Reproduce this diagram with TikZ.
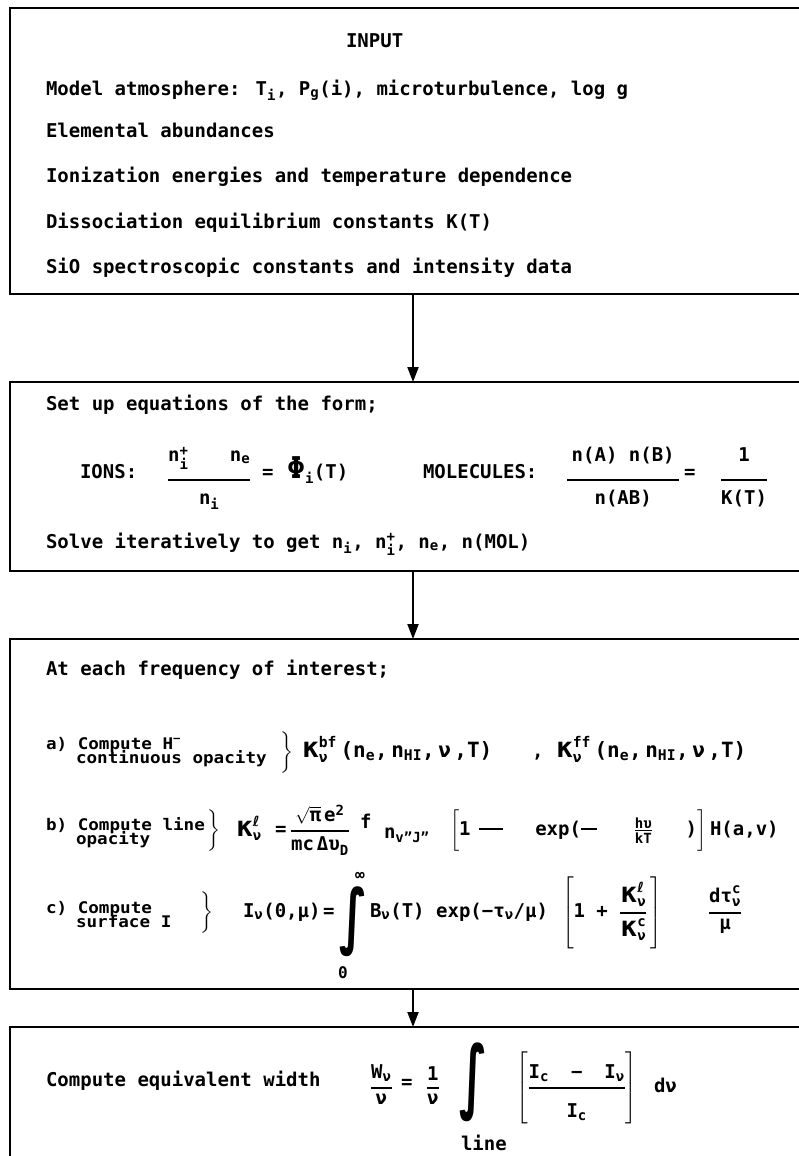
\documentclass[tikz,border=0pt]{standalone}
\usepackage{fontspec}
\usepackage{amsmath}
\usepackage{graphicx}
\setmainfont{DejaVu Sans Mono}
\newfontfamily\dvs{DejaVu Sans}
\usetikzlibrary{arrows.meta}
\DeclareMathSizes{19}{19}{14}{11}
\newcommand\tx[1]{\text{#1}}
\newcommand\bigK{\text{\fontsize{28}{28}\selectfont κ}}
\newcommand\Lsym{\text{\dvs\bfseries ℓ}}
\newcommand\ff[2]{\genfrac{}{}{1.8pt}{0}{#1}{#2}}
\newcommand\sfr[2]{\genfrac{}{}{1.2pt}{1}{#1}{#2}}
\newcommand\sx[1]{\scalebox{1.1}[1]{#1}}
\newcommand\dash[1]{\rule[5.5pt]{#1}{2pt}}
\newcommand\bigint[1]{\scalebox{1}[#1]{\dvs\bfseries\fontsize{46}{46}\selectfont ∫}}
\tikzset{
  boxx/.style={draw, line width=2.5pt, anchor=north west, minimum width=806pt, inner sep=0pt, outer sep=0pt},
  txt/.style={anchor=base west, inner sep=0pt, outer sep=0pt, font=\bfseries\fontsize{19}{22}\selectfont},
  lbl/.style={anchor=base west, inner sep=0pt, outer sep=0pt, font=\bfseries\fontsize{16}{16}\selectfont},
  intg/.style={inner sep=0pt, outer sep=0pt},
  flow/.style={line width=2pt, -{Triangle[length=15pt,width=11pt]}},
}
\begin{document}
\begin{tikzpicture}[x=1pt,y=-1pt]
\useasboundingbox (0,0) rectangle (799,1156);
\clip (0,0) rectangle (799,1156);
\fill[white] (0,0) rectangle (799,1156);

% boxes
\node[boxx, minimum height=286pt] (b1) at (10,8) {};
\node[boxx, minimum height=189pt] (b2) at (10,382) {};
\node[boxx, minimum height=350pt] (b3) at (10,639) {};
\node[boxx, minimum height=180pt] (b4) at (10,1027) {};

\draw[flow] (b1.south) -- (b2.north);
\draw[flow] (b2.south) -- (b3.north);
\draw[flow] (b3.south) -- (b4.north);

% box 1
\node[txt] (t-input) at (346,48) {INPUT};
\node[txt] (t-model) at (46,95) {Model atmosphere: T$_{\tx{i}}$, P$_{\tx{g}}$(i), microturbulence, log g};
\node[txt] (t-elem) at (46,137) {Elemental abundances};
\node[txt] (t-ion) at (46,182) {Ionization energies and temperature dependence};
\node[txt] (t-diss) at (46,228) {Dissociation equilibrium constants K(T)};
\node[txt] (t-sio) at (46,273) {SiO spectroscopic constants and intensity data};

% box 2
\node[txt] (t-setup) at (46,410) {Set up equations of the form;};
\node[txt] (t-ions) at (80,478) {IONS:};
\node[txt] (f-ions) at (167,484) {$\displaystyle\ff{\rule[-12pt]{0pt}{12pt}\makebox[82pt]{$\tx{n}_{\tx{i}}^{\tx{+}}$\hfill$\tx{n}_{\tx{e}}$}}{\rule{0pt}{18.5pt}\tx{n}_{\tx{i}}}$};
\node[txt] (eq-ions) at (262,478) {=};
\node[txt] (phi) at (287,478) {{\fontsize{30}{30}\selectfont Φ}$_{\tx{i}}$(T)};
\node[txt] (t-mol) at (423,478) {MOLECULES:};
\node[txt] (f-mol) at (566,484) {$\displaystyle\ff{\rule[-12pt]{0pt}{12pt}\makebox[112pt]{n(A) n(B)}}{\rule{0pt}{18.5pt}\tx{n(AB)}}$};
\node[txt] (eq-mol) at (684,478) {=};
\node[txt] (f-k) at (720,484) {$\displaystyle\ff{\rule[-12pt]{0pt}{12pt}\tx{1}}{\rule{0pt}{18.5pt}\tx{K(T)}}$};
\node[txt] (t-solve) at (46,548) {Solve iteratively to get n$_{\tx{i}}$, n$_{\tx{i}}^{\tx{+}}$, n$_{\tx{e}}$, n(MOL)};

% box 3
\node[txt] (t-each) at (46,675) {At each frequency of interest;};

\node[lbl] (la1) at (46,749) {\sx{a) Compute H$^{\tx{−}}$}};
\node[lbl] (la2) at (76,763) {\sx{continuous opacity}};
\node[txt] (br-a) at (280,757) {$\bigg\}$};
\node[txt, font=\bfseries\fontsize{21}{24}\selectfont] (f-a1) at (302,757) {$\bigK_{\tx{ν}}^{\tx{bf}}\,\tx{(n}_{\tx{e}}\tx{,\,n}_{\tx{HI}}\tx{,\,ν\,,T)}$};
\node[txt] (comma-a) at (532,757) {,};
\node[txt, font=\bfseries\fontsize{21}{24}\selectfont] (f-a2) at (556,757) {$\bigK_{\tx{ν}}^{\tx{ff}}\,\tx{(n}_{\tx{e}}\tx{,\,n}_{\tx{HI}}\tx{,\,ν\,,T)}$};

\node[lbl] (lb1) at (46,830) {\sx{b) Compute line}};
\node[lbl] (lb2) at (76,844) {\sx{opacity}};
\node[txt] (br-b) at (207,835) {$\bigg\}$};
\node[txt] (kl) at (236,836) {$\bigK_{\tx{ν}}^{\Lsym}$};
\node[txt] (eq-b) at (275,835) {=};
\node[txt] (f-b) at (290,835) {$\displaystyle\ff{\sqrt{\tx{π}}\,\tx{e}^{\tx{2}}}{\tx{mc}\,\tx{Δυ}_{\tx{D}}}$};
\node[txt] (fb) at (360,828) {f};
\node[txt] (nvj) at (384,838) {n$_{\tx{v"J"}}$};
\node[txt] (brk-b) at (450,835) {$\left[\rule[-14pt]{0pt}{34pt}\makebox[238pt][s]{\tx{1}\hspace{8pt}\dash{24pt}\hfill\tx{exp(}\dash{16pt}\hspace{4pt}\hfill$\sfr{\tx{hυ}}{\tx{kT}}$\hfill\tx{)}}\right]$};
\node[txt] (hav) at (710,835) {H(a,v)};

\node[lbl] (lc1) at (46,913) {\sx{c) Compute}};
\node[lbl] (lc2) at (76,927) {\sx{surface I}};
\node[txt] (br-c) at (200,917) {$\bigg\}$};
\node[txt] (iv) at (243,917) {I$_{\tx{ν}}$(0,μ)};
\node[txt] (eq-c) at (323,917) {=};
\node[intg] (int-c) at (354,922) {\bigint{1.55}};
\node[lbl, anchor=base] (inf-c) at (360,880) {∞};
\node[lbl] (zero-c) at (338,978) {0};
\node[txt] (bexp) at (370,917) {B$_{\tx{ν}}$(T) exp(−τ$_{\tx{ν}}$/μ)};
\node[txt] (brk-c) at (562,917) {$\left[\rule[-33pt]{0pt}{76pt}\tx{1 + }\displaystyle\ff{\bigK_{\tx{ν}}^{\Lsym}}{\bigK_{\tx{ν}}^{\tx{c}}}\,\right]$};
\node[txt] (dtau) at (708,917) {$\displaystyle\ff{\tx{dτ}_{\tx{ν}}^{\tx{c}}}{\tx{μ}}$};

% box 4
\node[txt] (t-ew) at (46,1086) {Compute equivalent width};
\node[txt] (f-w) at (370,1092) {$\displaystyle\ff{\tx{W}_{\tx{ν}}}{\tx{ν}}$};
\node[txt] (eq-w) at (401,1088) {=};
\node[txt] (f-1nu) at (426,1092) {$\displaystyle\ff{\tx{1}}{\tx{ν}}$};
\node[intg] (int-w) at (474,1082) {\bigint{1.75}};
\node[txt] (brk-w) at (516,1092) {$\left[\rule[-33pt]{0pt}{76pt}\displaystyle\ff{\makebox[96pt]{$\tx{I}_{\tx{c}}$\hfill−\hfill$\tx{I}_{\tx{ν}}$}}{\rule{0pt}{24pt}\tx{I}_{\tx{c}}}\right]$};
\node[txt] (dnu) at (654,1092) {dν};
\node[txt] (t-line) at (461,1150) {line};
\end{tikzpicture}
\end{document}
